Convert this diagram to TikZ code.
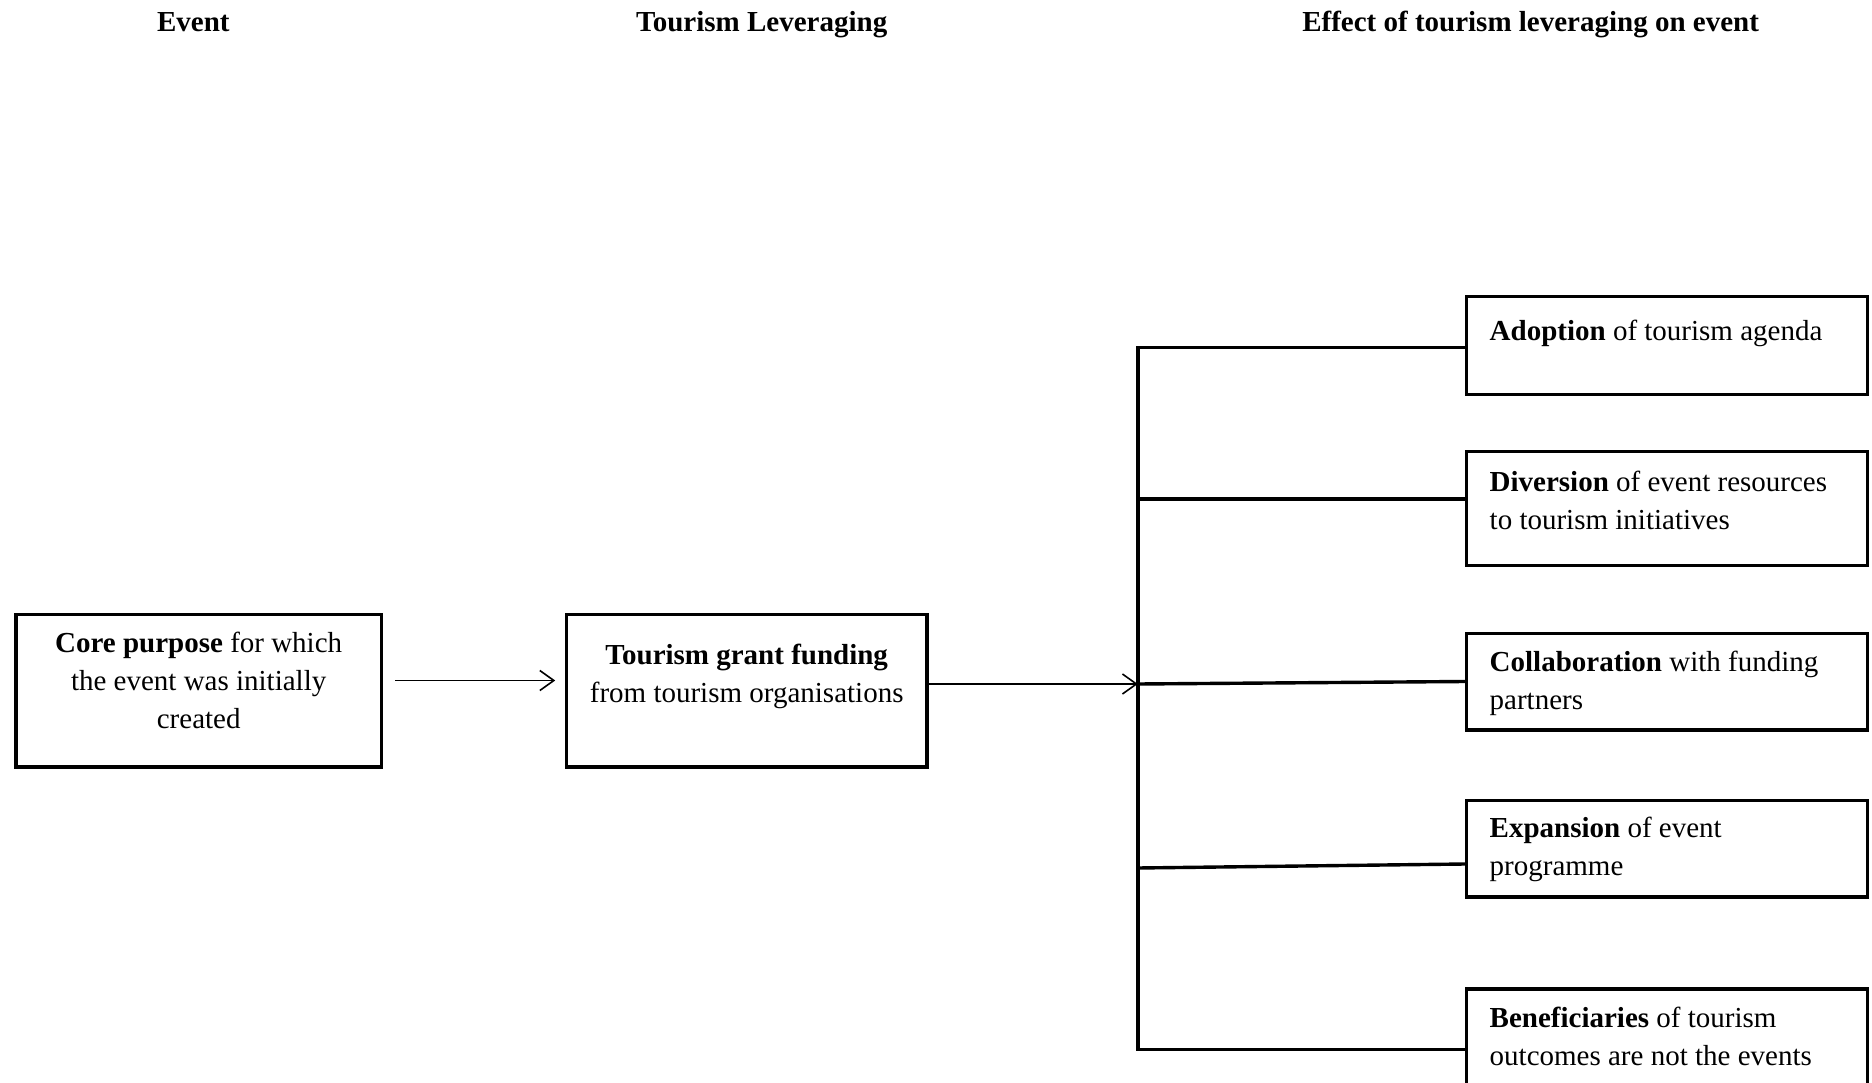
\documentclass[tikz,border=0pt]{standalone}
\usepackage{fontspec}
\setmainfont{Liberation Serif}
\usetikzlibrary{arrows.meta}

% fixed-size text frame: width, height, first-baseline offset, content
\newcommand\framedtext[4]{%
  \parbox[c][#2][t]{#1}{\vspace*{\dimexpr#3-25pt\relax}\rule{0pt}{25pt}#4}}

\tikzset{
  tbox/.style={draw, line width=3.4pt, inner sep=0pt, anchor=north west,
               font=\fontsize{29}{38}\selectfont},
  head/.style={anchor=base, inner sep=0pt, font=\fontsize{29}{38}\selectfont\bfseries},
  flow/.style={line width=1.6pt, -{Straight Barb[length=14pt, width=20pt, line width=1.6pt]}},
  bus/.style={line width=3.4pt, line cap=rect}
}

\begin{document}
\begin{tikzpicture}[x=1pt, y=-1pt]
  \useasboundingbox (0,0) rectangle (1872,1083);

  % column headings
  \node[head] (h1) at (193.4,32) {Event};
  \node[head] (h2) at (761.7,32) {Tourism Leveraging};
  \node[head] (h3) at (1530.6,32) {Effect of tourism leveraging on event};

  % event and leveraging boxes
  \node[tbox] (core) at (14.3,612.5)
    {\framedtext{365.4pt}{152.8pt}{38pt}{\centering\textbf{Core purpose} for which\\the event was initially\\created}};
  \node[tbox] (grant) at (564.7,612.5)
    {\framedtext{360.6pt}{152.8pt}{50.5pt}{\centering\textbf{Tourism grant funding}\\from tourism organisations}};

  % effect boxes
  \node[tbox] (eff1) at (1465,295)
    {\framedtext{401pt}{98pt}{43.5pt}{\raggedright\leftskip=23pt \textbf{Adoption} of tourism agenda}};
  \node[tbox] (eff2) at (1465,450)
    {\framedtext{401pt}{113.5pt}{39.5pt}{\raggedright\leftskip=23pt \textbf{Diversion} of event resources\\to tourism initiatives}};
  \node[tbox] (eff3) at (1465,631.6)
    {\framedtext{401pt}{96.7pt}{38pt}{\raggedright\leftskip=23pt \textbf{Collaboration} with funding\\partners}};
  \node[tbox] (eff4) at (1465,798.7)
    {\framedtext{401pt}{96.7pt}{37.5pt}{\raggedright\leftskip=23pt \textbf{Expansion} of event\\programme}};
  \node[tbox] (eff5) at (1465,987.4)
    {\framedtext{401pt}{130pt}{38.5pt}{\raggedright\leftskip=23pt \textbf{Beneficiaries} of tourism\\outcomes are not the events}};

  % junctions on the distribution bar
  \coordinate (j1) at (1137.8,347.4);
  \coordinate (j2) at (1137.8,499);
  \coordinate (j3) at (1137.8,684);
  \coordinate (j4) at (1137.8,868);
  \coordinate (j5) at (1137.8,1049.5);
  \coordinate (a1y) at (0,680.5);

  % arrows
  \draw[flow] ([xshift=12pt]core.east |- a1y) -- ([xshift=-9.5pt]a1y -| grant.west);
  \draw[flow] (grant.east |- j3) -- (j3);

  % distribution bar and branches
  \draw[bus] (eff1.west |- j1) -- (j1) -- (j5) -- (eff5.west |- j5);
  \draw[bus] (j2) -- (j2 -| eff2.west);
  \draw[bus] (j3) -- ([yshift=2.5pt]j3 -| eff3.west);
  \draw[bus] (j4) -- ([yshift=4pt]j4 -| eff4.west);
\end{tikzpicture}
\end{document}
